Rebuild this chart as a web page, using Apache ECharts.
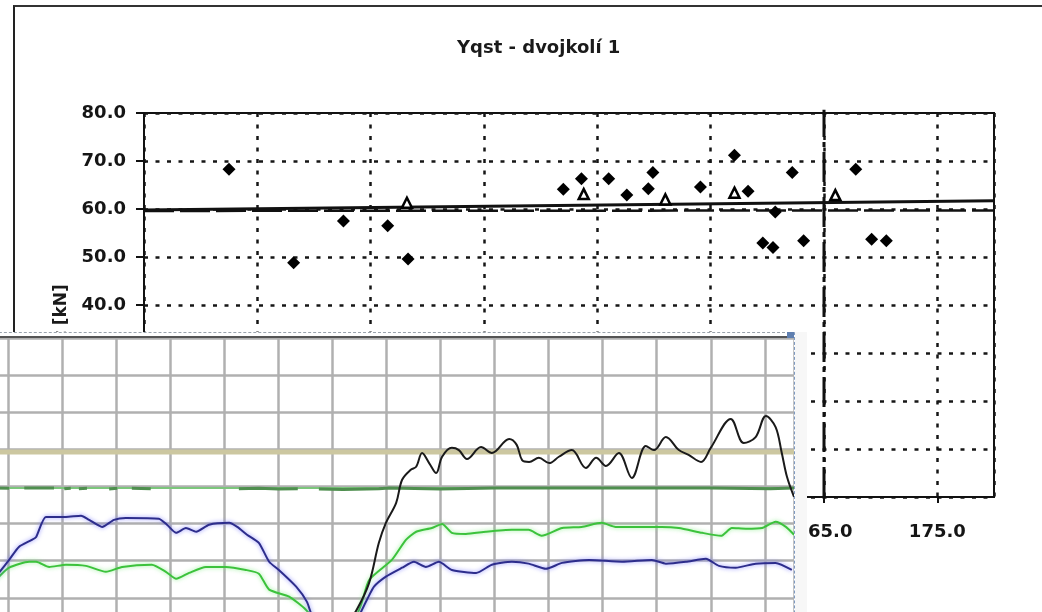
<!DOCTYPE html>
<html>
<head>
<meta charset="utf-8">
<script src="https://cdn.jsdelivr.net/npm/echarts@6/dist/echarts.min.js"></script>
<style>
  html, body { margin: 0; padding: 0; overflow: hidden; background: #fff; width: 1042px; height: 612px; }
  #scan { position: absolute; left: 0; top: 0; width: 1042px; height: 612px; }
  #frame { position: absolute; left: 13px; top: 5px; width: 1040px; height: 700px; border-left: 2px solid #222; border-top: 2px solid #333; pointer-events: none; }
  #wrap { position: absolute; left: -46px; top: 332px; width: 853px; height: 300px; background: #f7f7f7; overflow: hidden; z-index: 5; }
  #shot { position: absolute; left: 0; top: 0; width: 840px; height: 340px; background: #fff; border-top: 1px dashed #9aa3ad; border-right: 1px dashed #7e99bf; }
  #topbar { position: absolute; left: 0; top: 4px; width: 834px; height: 2px; background: #555; z-index: 6; }
  #handle { position: absolute; left: 833px; top: 0px; width: 7px; height: 6px; background: #5f7fb0; z-index: 7; }
</style>
</head>
<body>
<div id="scan"></div>
<div id="frame"></div>
<div id="wrap"><div id="shot"></div><div id="topbar"></div><div id="handle"></div></div>
<script>
// ---------- scanned chart "Yqst - dvojkolí 1" ----------
const titleText = 'Yqst - dvojkolí 1';
const yAxisName = 'Yqst [kN]';
// filled diamonds
const diamondX = [112.5, 118.2, 122.6, 126.5, 128.3, 142.0, 143.6, 146.0, 147.6, 149.9, 149.5, 154.1, 157.1, 158.3, 162.2, 160.7, 159.6, 160.5, 163.2, 167.8, 169.2, 170.5];
const diamondY = [68.3, 48.8, 57.5, 56.5, 49.6, 64.1, 66.3, 66.3, 62.9, 67.6, 64.2, 64.6, 71.2, 63.7, 67.6, 59.4, 52.9, 52.0, 53.4, 68.3, 53.7, 53.4];
// open markers
const openX = [128.2, 143.8, 151.0, 157.1, 166.0];
const openY = [61.3, 63.1, 62.0, 63.4, 62.9];
// reference lines
const solidLineX = [105, 180];
const solidLineY = [59.8, 61.7];
const dashLineX = [105, 180];
const dashLineY = [59.6, 59.7];
const vLineX = [165, 165];
const vLineY = [0, 80.7];

// ---------- overlaid screenshot ----------
const blueX = [-0.3, -0.17, 0.02, 0.20, 0.44, 0.52, 0.70, 1.07, 1.35, 1.50, 1.74, 1.96, 2.18, 2.79, 2.94, 3.11, 3.29, 3.48, 3.72, 4.09, 4.24, 4.42, 4.64, 4.83, 5.01, 5.33, 5.53, 5.66, 6.21, 6.64, 6.77, 6.99, 7.29, 7.51, 7.73, 7.97, 8.21, 8.66, 8.95, 9.32, 9.63, 9.95, 10.25, 10.75, 11.36, 11.91, 12.17, 12.54, 12.91, 13.15, 13.46, 13.83, 14.20, 14.50];
const blueY = [1.45, 1.67, 2.02, 2.37, 2.56, 2.64, 3.18, 3.18, 3.21, 3.10, 2.91, 3.10, 3.15, 3.13, 2.97, 2.75, 2.88, 2.78, 2.97, 3.02, 2.91, 2.70, 2.48, 1.97, 1.75, 1.30, 0.89, 0.41, -0.13, 0.95, 1.30, 1.57, 1.81, 1.97, 1.83, 1.97, 1.75, 1.67, 1.89, 1.97, 1.92, 1.78, 1.94, 2.02, 1.97, 2.02, 1.92, 1.97, 2.05, 1.86, 1.81, 1.92, 1.94, 1.75];
const greenX = [-0.3, -0.17, 0.02, 0.39, 0.52, 0.76, 1.07, 1.44, 1.81, 2.11, 2.66, 2.92, 3.11, 3.35, 3.66, 4.03, 4.40, 4.64, 4.83, 5.20, 5.51, 5.75, 6.21, 6.53, 6.68, 7.10, 7.36, 7.55, 7.84, 8.03, 8.21, 8.47, 8.84, 9.32, 9.63, 9.87, 10.25, 10.61, 10.98, 11.24, 11.67, 12.09, 12.41, 12.84, 13.19, 13.39, 13.65, 13.95, 14.20, 14.39, 14.54];
const greenY = [1.40, 1.57, 1.81, 1.97, 1.97, 1.83, 1.89, 1.86, 1.70, 1.83, 1.89, 1.70, 1.51, 1.67, 1.83, 1.83, 1.75, 1.65, 1.22, 1.03, 0.68, 0.27, -0.13, 0.81, 1.48, 2.02, 2.56, 2.78, 2.88, 2.99, 2.75, 2.72, 2.78, 2.83, 2.83, 2.67, 2.88, 2.91, 3.02, 2.91, 2.91, 2.91, 2.88, 2.75, 2.67, 2.88, 2.86, 2.88, 3.05, 2.91, 2.70];
const blackX = [6.03, 6.45, 6.68, 6.86, 6.99, 7.18, 7.29, 7.45, 7.55, 7.66, 7.79, 7.92, 8.03, 8.21, 8.34, 8.49, 8.75, 8.95, 9.27, 9.41, 9.51, 9.64, 9.82, 10.01, 10.19, 10.43, 10.69, 10.88, 11.06, 11.30, 11.54, 11.80, 11.95, 12.17, 12.41, 12.59, 12.82, 13.00, 13.37, 13.61, 13.83, 14.02, 14.20, 14.31, 14.41, 14.54];
const blackY = [-0.27, 0.68, 1.40, 2.48, 3.02, 3.56, 4.18, 4.45, 4.53, 4.90, 4.63, 4.36, 4.80, 5.04, 4.98, 4.74, 5.06, 4.90, 5.28, 5.12, 4.71, 4.66, 4.77, 4.63, 4.80, 4.98, 4.50, 4.77, 4.55, 4.90, 4.23, 5.09, 4.98, 5.33, 4.98, 4.85, 4.66, 5.04, 5.82, 5.17, 5.33, 5.90, 5.60, 4.93, 4.26, 3.72];
const darkGreenX = [-1.0, 0.02, 0.1, 0.30, 0.85, 0.9, 1.04, 1.16, 1.2, 1.31, 1.46, 1.5, 1.87, 2.02, 2.1, 2.29, 2.64, 2.7, 4.27, 4.64, 5.0, 5.36, 5.5, 5.75, 6.2, 6.86, 7.05, 8.0, 9.0, 10.0, 11.0, 12.0, 13.0, 14.1, 14.54];
const darkGreenY = [3.97, 3.95, null, 3.96, 3.96, null, 3.94, 3.95, null, 3.94, 3.95, null, 3.93, 3.95, null, 3.95, 3.94, null, 3.94, 3.95, 3.93, 3.94, null, 3.93, 3.92, 3.94, 3.96, 3.93, 3.96, 3.96, 3.96, 3.96, 3.96, 3.94, 3.96];
const limitX = [-1, 14.54];
const tanLimitY = [4.93, 4.93];
const greenLimitY = [3.96, 3.96];

const pairs = (xs, ys) => xs.map((x, i) => [x, ys[i] === null ? '-' : ys[i]]);

const labelFont = { fontFamily: 'DejaVu Sans', fontWeight: 'bold', fontSize: 18, color: '#151515' };
const dotted = { color: '#161616', width: 2.5, type: [4, 7.5] };

const scan = echarts.init(document.getElementById('scan'), null, { renderer: 'canvas' });
scan.setOption({
  animation: false,
  backgroundColor: '#fff',
  title: { text: titleText, left: 452, top: 34, textStyle: { fontFamily: 'DejaVu Sans', fontWeight: 'bold', fontSize: 18, color: '#1a1a1a' } },
  grid: { left: 144, top: 113, right: 48, bottom: 115, show: true, borderColor: '#111', borderWidth: 2, backgroundColor: 'transparent' },
  xAxis: {
    type: 'value', min: 105, max: 180, interval: 10,
    axisLine: { show: true, lineStyle: { color: '#111', width: 2 } },
    axisTick: { show: true, length: 6, lineStyle: { color: '#111', width: 2 } },
    axisLabel: Object.assign({ margin: 26, formatter: v => v.toFixed(1) }, labelFont),
    splitLine: { show: true, lineStyle: dotted }
  },
  yAxis: {
    type: 'value', min: 0, max: 80, interval: 10,
    name: yAxisName, nameLocation: 'middle', nameGap: 74,
    nameTextStyle: { fontFamily: 'DejaVu Sans', fontWeight: 'bold', fontSize: 17, color: '#1a1a1a', padding: [0, 48, 0, 0] },
    axisLine: { show: true, lineStyle: { color: '#111', width: 2 } },
    axisTick: { show: true, length: 8, lineStyle: { color: '#111', width: 2 } },
    axisLabel: Object.assign({ margin: 18, formatter: v => v.toFixed(1) }, labelFont),
    splitLine: { show: true, lineStyle: dotted }
  },
  series: [
    { type: 'line', data: pairs(dashLineX, dashLineY), symbol: 'none', lineStyle: { color: '#111', width: 2.5, type: [30, 6] }, z: 3 },
    { type: 'line', data: pairs(solidLineX, solidLineY), symbol: 'none', lineStyle: { color: '#111', width: 3 }, z: 3 },
    { type: 'line', data: pairs(vLineX, vLineY), symbol: 'none', clip: false, lineStyle: { color: '#111', width: 3, type: [30, 5, 5, 5] }, z: 3 },
    { type: 'scatter', data: pairs(diamondX, diamondY), symbol: 'diamond', symbolSize: 13, itemStyle: { color: '#000', opacity: 1 }, z: 5 },
    { type: 'scatter', data: pairs(openX, openY), symbol: 'triangle', symbolSize: [10, 10], itemStyle: { color: '#fff', borderColor: '#000', borderWidth: 2.5, opacity: 1 }, z: 5 }
  ]
});

const gridLine = { color: '#b0b0b0', width: 2.5 };
const shot = echarts.init(document.getElementById('shot'), null, { renderer: 'canvas' });
shot.setOption({
  animation: false,
  backgroundColor: '#fff',
  grid: { left: 0, right: 0, top: 5, bottom: 1 },
  xAxis: {
    type: 'value', min: -1, max: 14.54, interval: 1,
    axisLine: { show: false }, axisTick: { show: false }, axisLabel: { show: false },
    splitLine: { show: true, lineStyle: gridLine }
  },
  yAxis: {
    type: 'value', min: -1, max: 8, interval: 1,
    axisLine: { show: false }, axisTick: { show: false }, axisLabel: { show: false },
    splitLine: { show: true, lineStyle: gridLine }
  },
  series: [
    { type: 'line', data: pairs(limitX, tanLimitY), symbol: 'none', lineStyle: { color: '#ccc7a0', width: 5 }, z: 2 },
    { type: 'line', data: pairs(limitX, greenLimitY), symbol: 'none', lineStyle: { color: '#7cc67c', width: 2 }, z: 2 },
    { type: 'line', data: pairs(darkGreenX, darkGreenY), symbol: 'none', connectNulls: false, lineStyle: { color: '#4f8f4f', width: 3 }, z: 3 },
    { type: 'line', data: pairs(greenX, greenY), symbol: 'none', smooth: 0.2, lineStyle: { color: '#3cc23c', width: 2, shadowColor: 'rgba(120,235,120,0.8)', shadowBlur: 4 }, z: 4 },
    { type: 'line', data: pairs(blueX, blueY), symbol: 'none', smooth: 0.2, lineStyle: { color: '#2d2d8c', width: 2, shadowColor: 'rgba(110,110,255,0.8)', shadowBlur: 4 }, z: 4 },
    { type: 'line', data: pairs(blackX, blackY), symbol: 'none', smooth: 0.35, lineStyle: { color: '#1a1a1a', width: 2 }, z: 5 }
  ]
});
</script>
</body>
</html>
